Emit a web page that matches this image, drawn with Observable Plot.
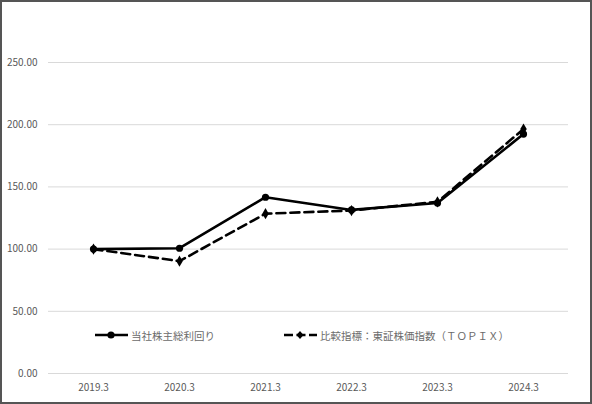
<!DOCTYPE html>
<html>
<head>
<meta charset="utf-8">
<script src="https://cdn.jsdelivr.net/npm/d3@7"></script>
<script src="https://cdn.jsdelivr.net/npm/@observablehq/plot@0.6"></script>
<style>
  html, body { margin: 0; padding: 0; background: #fff; }
  #wrap { position: relative; width: 592px; height: 404px; overflow: hidden; font-family: "Noto Sans CJK JP", "Noto Sans", sans-serif; }
  #wrap svg.plot { position: absolute; left: 0; top: 0; }
  #border { position: absolute; left: 0; top: 0; width: 592px; height: 404px; box-sizing: border-box; border: 2px solid #555; pointer-events: none; }
  .leg { position: absolute; top: 327px; display: flex; align-items: center; font-size: 10.5px; color: #6b6b6b; white-space: nowrap; }
  .leg svg { margin-right: 3px; }
</style>
</head>
<body>
<div id="wrap"></div>
<script>
const years = ["2019.3", "2020.3", "2021.3", "2022.3", "2023.3", "2024.3"];
const company = [100.0, 100.7, 141.7, 131.5, 137.0, 192.5];
const topix = [100.0, 90.3, 128.5, 131.0, 138.0, 196.5];
const yTicks = [0, 50, 100, 150, 200, 250];
const seriesNames = ["当社株主総利回り", "比較指標：東証株価指数（ＴＯＰＩＸ）"];

const rowsCompany = years.map((y, i) => ({year: y, value: company[i]}));
const rowsTopix = years.map((y, i) => ({year: y, value: topix[i]}));

const chart = Plot.plot({
  width: 592,
  height: 404,
  marginLeft: 48,
  marginRight: 24,
  marginTop: 62,
  marginBottom: 31,
  style: {fontFamily: '"Noto Sans CJK JP", "Noto Sans", sans-serif', fontSize: "10px", color: "#595959", background: "transparent"},
  x: {type: "point", domain: years, padding: 0.5, label: null},
  y: {domain: [0, 250], label: null},
  marks: [
    Plot.ruleY(yTicks, {stroke: "#d9d9d9", strokeWidth: 1}),
    Plot.axisY({ticks: yTicks, tickSize: 0, tickPadding: 11, tickFormat: d => d.toFixed(2), fill: "#595959", label: null}),
    Plot.axisX({tickSize: 0, tickPadding: 10, fill: "#595959", label: null}),
    Plot.line(rowsTopix, {x: "year", y: "value", stroke: "#000", strokeWidth: 2.6, strokeDasharray: "9,5"}),
    Plot.dot(rowsTopix, {x: "year", y: "value", symbol: "diamond", r: 3.4, fill: "#000"}),
    Plot.line(rowsCompany, {x: "year", y: "value", stroke: "#000", strokeWidth: 2.6}),
    Plot.dot(rowsCompany, {x: "year", y: "value", r: 3.6, fill: "#000"})
  ]
});
chart.classList.add("plot");
const wrap = document.getElementById("wrap");
wrap.appendChild(chart);

function legendItem(name, dashed, left) {
  const div = document.createElement("div");
  div.className = "leg";
  div.style.left = left + "px";
  const marker = dashed
    ? '<path d="M16,4 L19.5,8 L16,12 L12.5,8 Z" fill="#000"/>'
    : '<circle cx="16" cy="8" r="3.6" fill="#000"/>';
  div.innerHTML = `<svg width="33" height="16"><line x1="0" y1="8" x2="33" y2="8" stroke="#000" stroke-width="2.6" ${dashed ? 'stroke-dasharray="9,3.5"' : ''}/>${marker}</svg><span>${name}</span>`;
  wrap.appendChild(div);
}
legendItem(seriesNames[0], false, 95);
legendItem(seriesNames[1], true, 284);

const border = document.createElement("div");
border.id = "border";
wrap.appendChild(border);
</script>
</body>
</html>
